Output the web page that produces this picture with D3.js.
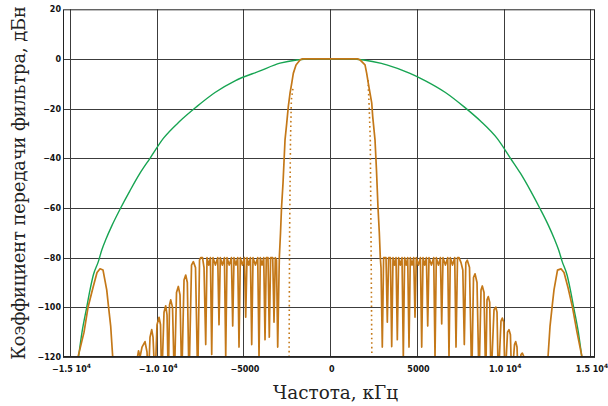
<!DOCTYPE html>
<html><head><meta charset="utf-8">
<script src="https://cdn.jsdelivr.net/npm/d3@7"></script>
<style>body{margin:0;background:#fff}</style>
</head><body>
<svg id="c" width="608" height="406"></svg>
<script>
// ---- data ----
const yTicks = [20, 0, -20, -40, -60, -80, -100, -120];
const yTickLabels = ["20", "0", "−20", "−40", "−60", "−80", "−100", "−120"];
const xTicks = [-15000, -10000, -5000, 0, 5000, 10000, 15000];
const xTickMantissa = ["−1.5 10", "−1.0 10", "−5000", "0", "5000", "1.0 10", "1.5 10"];
const xTickExponent = ["4", "4", "", "", "", "4", "4"];
const xTitle = "Частота, кГц";
const yTitle = "Коэффициент передачи фильтра, дБн";

// green (wide) filter response
const greenFreq = [-14505,-14304,-14033,-13843,-13652,-13364,-13169,-12921,-12575,-12114,-11537,-10961,-10385,-9618,-8656,-7694,-6639,-5486,-4046,-2893,-1931,-1164,
  1164,1931,2950,3256,4599,5490,6640,7700,8660,9620,10390,10960,11540,12110,12575,12920,13170,13370,13650,13840,14030,14300,14500];
const greenDb = [-120,-110,-100,-93,-87,-81.6,-77,-72.5,-67,-60.5,-53,-46,-40,-32,-25,-19.2,-13.5,-8.8,-4.8,-1.7,-0.4,0,
  0,-0.4,-1.8,-2.4,-5.8,-8.8,-13.5,-19.2,-25,-32,-40,-46,-53,-60.5,-67,-72.5,-77,-81.6,-87,-93,-100,-110,-120];

// orange (narrow) filter response
const orangeFreq = [
  -14534,-14188,-13958,-13670,-13439,-13266,-13093,-12880,-12788,-12650,-12535,-12450,
  -11200,-11134,-11048,-10961,-10846,-10673,-10558,-10483,-10385,-10287,-10212,-10097,
  -9982,-9866,-9780,-9711,-9578,-9480,-9405,-9330,-9261,-9192,-9088,-8984,
  -8858,-8754,-8656,-8558,-8425,-8328,-8235,-8137,-7993,-7889,-7763,-7636,
  -7532,-7463,-7359,-7273,-7175,
  -7100,-7002,-6904,-6829,-6754,-6616,-6483,-6409,-6334,-6218,-6097,-6022,
  -5947,-5821,-5694,-5619,-5544,-5434,-5331,-5256,-5181,-5060,-4945,-4870,
  -4795,-4697,-4599,-4524,-4449,-4311,-4178,-4103,-4028,-3930,-3832,-3757,
  -3683,-3585,-3510,-3435,-3314,-3239,-3164,-3095,-3026,
  -2933,-2864,-2807,-2720,-2605,-2507,-2415,-2317,-2219,-2127,-1971,-1740,-1625,
  1602,1717,2006,2103,2196,2294,2392,2449,2582,2668,2755,2830,2887,2928,3002,
  3077,3216,3291,3366,3469,3544,3619,3706,3792,3867,3942,4040,4138,4213,
  4288,4380,4466,4541,4616,4714,4812,4887,4962,5083,5198,5273,
  5348,5446,5544,5619,5694,5832,5965,6040,6115,6236,6351,6426,
  6501,6639,6772,6846,6921,7048,7175,7250,7336,7423,7538,7642,7728,
  7815,7901,8028,8155,8258,8345,8460,8575,8691,8765,8864,8961,
  9036,9111,9192,9267,9440,9538,9613,9688,9843,9918,9999,10074,
  10218,10304,10385,10460,10621,10690,10765,10840,10996,11071,11140,11186,
  12450,12552,12667,12800,12897,13099,13301,13474,13704,13964,14223,14511,14600];
const orangeDb = [
  -120,-110,-100,-92,-86,-84.5,-85,-93,-99,-107.7,-120,-130,
  -130,-121,-117.5,-120,-116,-113.8,-118,-130,-112,-109,-112,-130,
  -107,-104,-107,-130,-102,-99.4,-103,-130,-99,-97,-100,-130,
  -94,-91.6,-95,-130,-89,-87,-90,-130,-83,-81.6,-84,-130,
  -81,-80,-80,-84,-115,
  -80,-83,-80,-119,-80,-83,-80,-107,-80,-83,-80,-120,
  -80,-83,-80,-107.5,-80,-83,-80,-116,-80,-83,-80,-104,
  -80,-83,-80,-115,-80,-83,-80,-120,-80,-83,-80,-113,
  -80,-80,-112,-80,-80,-106,-80,-81,-116,
  -80,-70,-60,-50,-32.6,-25.9,-19.2,-13.8,-9.8,-5.8,-2.4,-0.4,0,
  0,-0.4,-2.4,-5.8,-9.8,-13.8,-17.7,-23.2,-32.6,-45,-60,-70,-80,-84,-116,
  -80,-80,-106,-80,-80,-115.8,-80,-83,-80,-113,-80,-83,-80,-120,
  -80,-83,-80,-116,-80,-83,-80,-104,-80,-83,-80,-116,
  -80,-83,-80,-107.5,-80,-83,-80,-120,-80,-83,-80,-106.7,
  -80,-83,-80,-120,-80,-83,-80,-116,-80,-80,-82,-85,-115,
  -82,-81,-84,-130,-88,-86.5,-90,-130,-93,-91.4,-94,-130,
  -97,-95.7,-98,-130,-101,-99.9,-102,-130,-105.5,-104.3,-106,-130,
  -110,-109,-111,-130,-115,-113.8,-116,-130,-119,-118.4,-119.5,-130,
  -130,-120,-107.7,-99,-93,-85,-84.5,-86,-92,-100,-110,-120,-130];

// dotted (ideal) edges
const dotLeftFreq = [-2150,-2240,-2290,-2340,-2370];
const dotLeftDb = [-12,-16.5,-33,-70,-120];
const dotRightFreq = [2180,2250,2310,2350,2400];
const dotRightDb = [-8.5,-20,-33,-70,-120];

// ---- chart ----
const svg = d3.select("#c");
const L = 63, R = 595, T = 9.3, B = 357;
const x = d3.scaleLinear().domain([-15400, 15260]).range([L, R]);
const y = d3.scaleLinear().domain([-120, 20]).range([B, T]);

const gridColor = "#3c3c3c";
// grid
svg.append("g").selectAll("line").data(yTicks.filter(v => v < 20)).join("line")
  .attr("x1", L).attr("x2", R).attr("y1", d => Math.round(y(d)) + 0.5).attr("y2", d => Math.round(y(d)) + 0.5)
  .attr("stroke", gridColor).attr("stroke-width", 1);
svg.append("g").selectAll("line").data(xTicks).join("line")
  .attr("y1", T).attr("y2", B).attr("x1", d => Math.round(x(d)) + 0.5).attr("x2", d => Math.round(x(d)) + 0.5)
  .attr("stroke", gridColor).attr("stroke-width", 1);

// clip
svg.append("clipPath").attr("id", "clip").append("rect")
  .attr("x", L).attr("y", T).attr("width", R - L).attr("height", B - T);

const green = greenFreq.map((f, i) => [f, greenDb[i]]);
const orange = orangeFreq.map((f, i) => [f, orangeDb[i]]);
const dotL = dotLeftFreq.map((f, i) => [f, dotLeftDb[i]]);
const dotR = dotRightFreq.map((f, i) => [f, dotRightDb[i]]);

const lineSmooth = d3.line().x(d => x(d[0])).y(d => y(d[1])).curve(d3.curveMonotoneX);
const lineLin = d3.line().x(d => x(d[0])).y(d => y(d[1]));

const plot = svg.append("g").attr("clip-path", "url(#clip)");
plot.append("path").attr("d", lineSmooth(green)).attr("fill", "none")
  .attr("stroke", "#17a452").attr("stroke-width", 1.4);
plot.append("path").attr("d", lineLin(orange)).attr("fill", "none")
  .attr("stroke", "#c47818").attr("stroke-width", 1.7).attr("stroke-linejoin", "round");
[dotL, dotR].forEach(dd => plot.append("path").attr("d", lineLin(dd)).attr("fill", "none")
  .attr("stroke", "#c47818").attr("stroke-width", 1.6).attr("stroke-dasharray", "1.6,3"));

// frame
svg.append("rect").attr("x", L + 0.5).attr("y", T + 0.5).attr("width", R - L - 1).attr("height", B - T - 1)
  .attr("fill", "none").attr("stroke", "#222").attr("stroke-width", 1);

// tick labels
const tickFont = "DejaVu Sans";
svg.append("g").selectAll("text").data(yTicks).join("text")
  .attr("x", 61).attr("y", d => y(d)).attr("dy", "0.36em")
  .attr("text-anchor", "end").attr("font-family", tickFont).attr("font-weight", "bold")
  .attr("font-size", 8).attr("fill", "#111")
  .text((d, i) => yTickLabels[i]);

const xt = svg.append("g").selectAll("text").data(xTicks).join("text")
  .attr("x", d => x(d) + 1.5).attr("y", 371.5)
  .attr("text-anchor", "middle").attr("font-family", tickFont).attr("font-weight", "bold")
  .attr("font-size", 8).attr("fill", "#111");
xt.append("tspan").text((d, i) => xTickMantissa[i]);
xt.append("tspan").attr("dy", -3.5).attr("font-size", 6).text((d, i) => xTickExponent[i]);

// axis titles
const titleFont = "DejaVu Serif";
const xt2 = svg.append("text").attr("font-family", titleFont).attr("font-size", 20)
  .attr("fill", "#222").attr("text-anchor", "middle").attr("x", 335.5).attr("y", 399).text(xTitle);
let w = xt2.node().getComputedTextLength();
xt2.attr("font-size", 20 * 125 / w);

const yt2 = svg.append("text").attr("font-family", titleFont).attr("font-size", 20)
  .attr("fill", "#222").attr("text-anchor", "middle")
  .attr("transform", "translate(25,183) rotate(-90)").text(yTitle);
w = yt2.node().getComputedTextLength();
yt2.attr("font-size", 20 * 354 / w);
</script>
</body></html>
